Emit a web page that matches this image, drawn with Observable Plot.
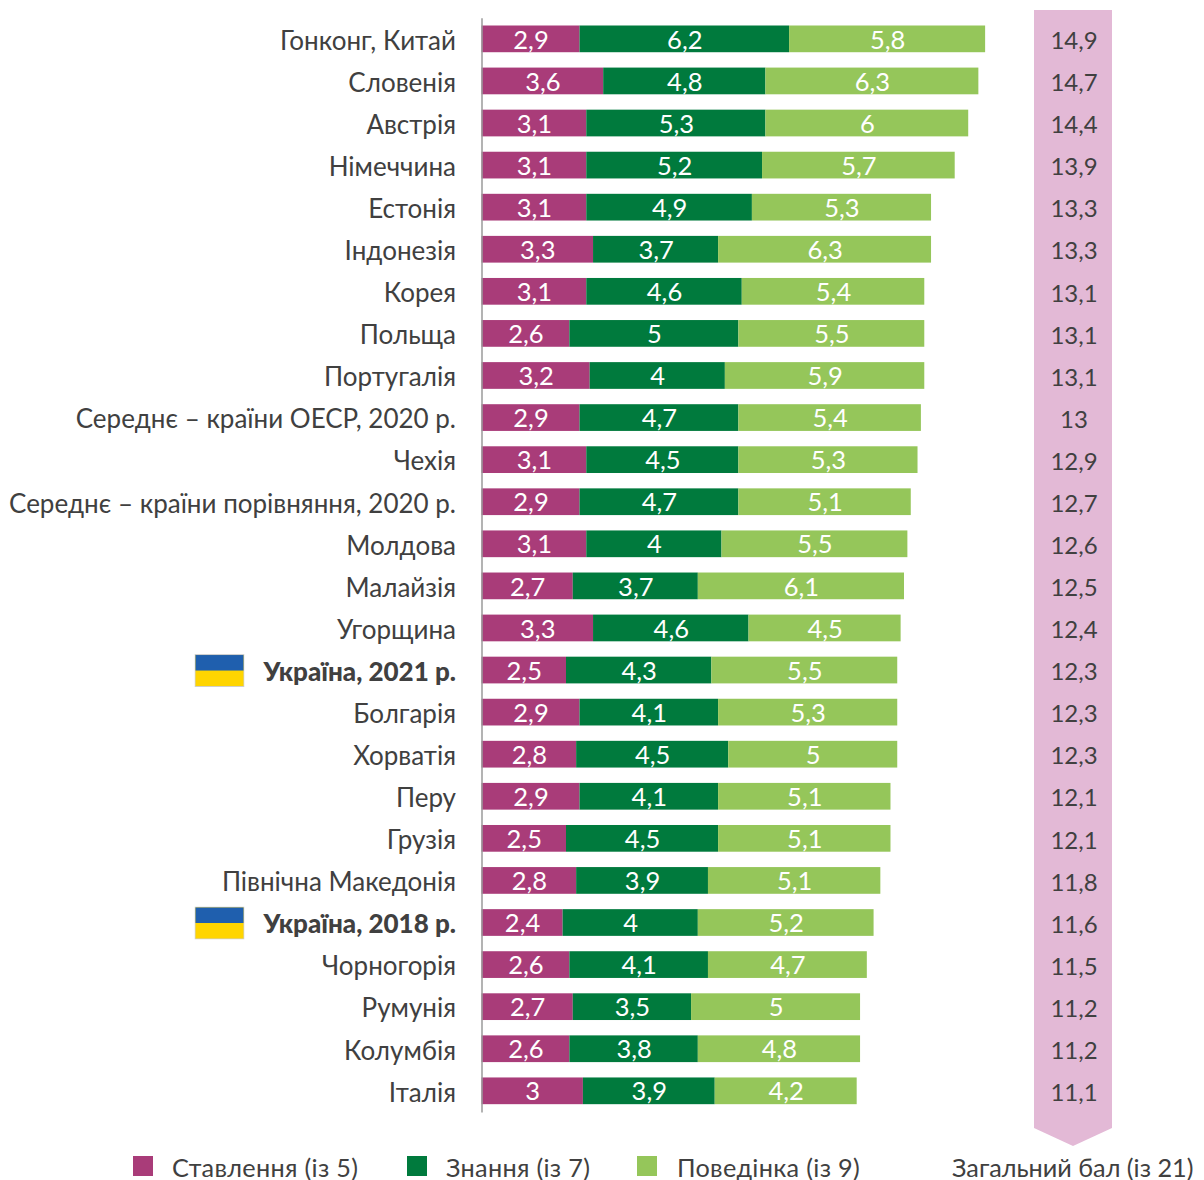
<!DOCTYPE html>
<html><head><meta charset="utf-8">
<script src="https://cdn.jsdelivr.net/npm/d3@7"></script>
<script src="https://cdn.jsdelivr.net/npm/@observablehq/plot@0.6"></script>
<style>
html,body{margin:0;padding:0;background:#fff;overflow:hidden}
#wrap{position:relative;width:1204px;height:1180px;font-family:Lato,sans-serif;color:#404040}
#wrap svg{position:absolute;left:0;top:0}
#total{position:absolute;left:1034px;top:10px;width:78px;height:1136px;background:#e3b9d6;clip-path:polygon(0 0,100% 0,100% 1118px,50% 100%,0 1118px)}
.lg{position:absolute;top:1155px;font-size:25.25px;letter-spacing:.3px;line-height:24px;white-space:nowrap}
.sw{position:absolute;top:1156px;width:20px;height:20px}
</style></head><body>
<div id="wrap"><div id="total"></div></div>
<script>
const countries=["Гонконг, Китай","Словенія","Австрія","Німеччина","Естонія","Індонезія","Корея","Польща","Португалія","Середнє – країни ОЕСР, 2020 р.","Чехія","Середнє – країни порівняння, 2020 р.","Молдова","Малайзія","Угорщина","Україна, 2021 р.","Болгарія","Хорватія","Перу","Грузія","Північна Македонія","Україна, 2018 р.","Чорногорія","Румунія","Колумбія","Італія"];
const attitude=[2.9,3.6,3.1,3.1,3.1,3.3,3.1,2.6,3.2,2.9,3.1,2.9,3.1,2.7,3.3,2.5,2.9,2.8,2.9,2.5,2.8,2.4,2.6,2.7,2.6,3];
const knowledge=[6.2,4.8,5.3,5.2,4.9,3.7,4.6,5,4,4.7,4.5,4.7,4,3.7,4.6,4.3,4.1,4.5,4.1,4.5,3.9,4,4.1,3.5,3.8,3.9];
const behaviour=[5.8,6.3,6,5.7,5.3,6.3,5.4,5.5,5.9,5.4,5.3,5.1,5.5,6.1,4.5,5.5,5.3,5,5.1,5.1,5.1,5.2,4.7,5,4.8,4.2];
const totals=[14.9,14.7,14.4,13.9,13.3,13.3,13.1,13.1,13.1,13,12.9,12.7,12.6,12.5,12.4,12.3,12.3,12.3,12.1,12.1,11.8,11.6,11.5,11.2,11.2,11.1];
const seriesNames=["Ставлення (із 5)","Знання (із 7)","Поведінка (із 9)"];
const seriesColors=["#a93c79","#007a3d","#95c65a"];
const totalLabel="Загальний бал (із 21)";
const highlighted=["Україна, 2021 р.","Україна, 2018 р."];
const comma=v=>String(v).replace(".",",");
const long=countries.flatMap((c,i)=>[attitude[i],knowledge[i],behaviour[i]].map((v,j)=>({c,s:seriesNames[j],v})));
const rows=countries.map((c,i)=>({c,t:totals[i]}));
const flag="data:image/svg+xml,"+encodeURIComponent('<svg xmlns="http://www.w3.org/2000/svg" width="50" height="33"><rect width="50" height="33" fill="#cfcfcf"/><rect x="1" y="1" width="48" height="31" fill="#ffd500"/><rect x="1" y="1" width="48" height="15.5" fill="#1f5fae"/></svg>');
const unit=33.8, left=481.5, W=1204;
const chart=Plot.plot({
  width:W,height:1180,marginLeft:left,marginRight:0,marginTop:10.14,marginBottom:60.46,
  style:{background:"transparent",fontFamily:"Lato,sans-serif",overflow:"visible"},
  x:{domain:[0,(W-left)/unit],axis:null},
  y:{domain:countries,axis:null,padding:0.365,round:false},
  color:{domain:seriesNames,range:seriesColors},
  marks:[
    Plot.barX(long,{y:"c",x:"v",fill:"s",z:"s",order:seriesNames}),
    Plot.text(long,Plot.stackX({y:"c",x:"v",z:"s",order:seriesNames,text:d=>comma(d.v),fill:"#fff",fontSize:25.5,dy:1})),
    Plot.ruleX([0],{stroke:"#9a9a9a",strokeWidth:1.5,insetTop:8,insetBottom:7}),
    Plot.text(rows.filter(d=>!highlighted.includes(d.c)),{x:0,y:"c",text:"c",textAnchor:"end",dx:-26,dy:2,fontSize:26,fill:"#404040"}),
    Plot.text(rows.filter(d=>highlighted.includes(d.c)),{x:0,y:"c",text:"c",textAnchor:"end",dx:-26,dy:2,fontSize:26,fontWeight:900,fill:"#404040"}),
    Plot.image(rows.filter(d=>highlighted.includes(d.c)),{x:0,y:"c",src:()=>flag,width:50,height:33,dx:-262.5,preserveAspectRatio:"none"}),
    Plot.text(rows,{x:0,y:"c",text:d=>comma(d.t),dx:592,dy:2,fontSize:24,fill:"#404040"})
  ]
});
const wrap=document.getElementById("wrap");
wrap.appendChild(chart);
const lx=[133,407,637], tx=[172,446,677];
seriesNames.forEach((n,i)=>{
  const s=document.createElement("div");s.className="sw";s.style.left=lx[i]+"px";s.style.background=seriesColors[i];wrap.appendChild(s);
  const t=document.createElement("div");t.className="lg";t.style.left=tx[i]+"px";t.textContent=n;wrap.appendChild(t);
});
const t=document.createElement("div");t.className="lg";t.style.left="952px";t.style.letterSpacing="0";t.textContent=totalLabel;wrap.appendChild(t);
</script>
</body></html>
